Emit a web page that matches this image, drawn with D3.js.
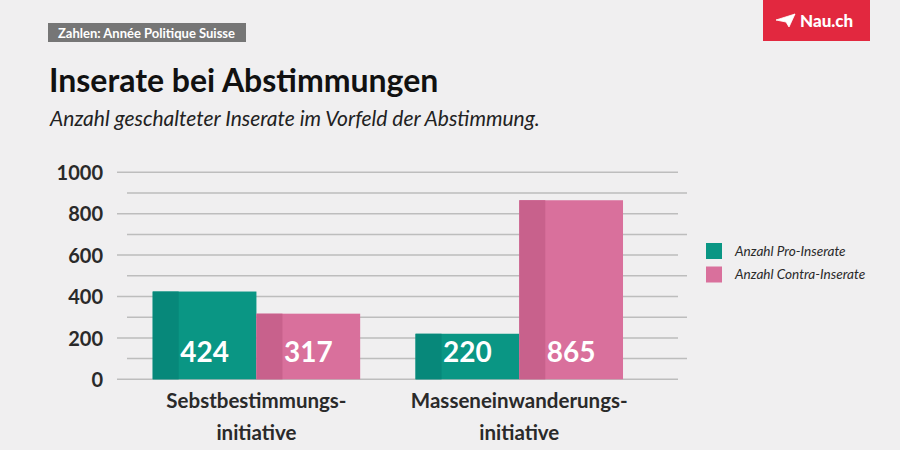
<!DOCTYPE html>
<html><head><meta charset="utf-8">
<script src="https://cdn.jsdelivr.net/npm/d3@7"></script>
<style>
html,body{margin:0;padding:0;background:#f0eff0;}
svg{display:block;font-family:Lato,"Open Sans",sans-serif;}
</style></head>
<body>
<svg id="chart" width="900" height="450"></svg>
<script>
const categories = [["Sebstbestimmungs-","initiative"],["Masseneinwanderungs-","initiative"]];
const seriesNames = ["Anzahl Pro-Inserate","Anzahl Contra-Inserate"];
const proValues = [424, 220];
const contraValues = [317, 865];
const yTicks = [0,200,400,600,800,1000];
const minorTicks = [100,300,500,700,900];

const colors = ["#0a9684","#d9709c"];
const darkColors = ["#07887a","#c8618c"];

const svg = d3.select("#chart");
svg.append("rect").attr("width",900).attr("height",450).attr("fill","#f0eff0");

// source tag
svg.append("rect").attr("x",48).attr("y",23).attr("width",198).attr("height",19).attr("fill","#767676");
svg.append("text").attr("x",58).attr("y",37.5).attr("fill","#fff").attr("font-weight",700)
  .attr("font-size",13).text("Zahlen: Année Politique Suisse");

// logo
svg.append("rect").attr("x",763).attr("y",0).attr("width",107).attr("height",41).attr("fill","#e2283f");
svg.append("path").attr("d","M776,20 L795,14 L789,27 L786,22 Z M786,22 L795,14").attr("fill","#fff").attr("stroke","#fff").attr("stroke-width",0.8);
svg.append("text").attr("x",800).attr("y",27).attr("fill","#fff").attr("font-weight",900)
  .attr("font-size",17).text("Nau.ch");

// titles
svg.append("text").attr("x",49).attr("y",92).attr("fill","#111").attr("font-weight",700)
  .attr("font-size",32).text("Inserate bei Abstimmungen");
svg.append("text").attr("x",50).attr("y",126).attr("fill","#222").attr("font-style","italic")
  .attr("font-size",21).text("Anzahl geschalteter Inserate im Vorfeld der Abstimmung.");

const y = d3.scaleLinear().domain([0,1000]).range([379.3,172.3]);
const x0 = d3.scaleBand().domain(d3.range(categories.length)).range([126.4,649.3]).paddingInner(0.2106).paddingOuter(0.1);
const x1 = d3.scaleBand().domain([0,1]).range([0,x0.bandwidth()]);

// grid
svg.append("g").selectAll("line").data(yTicks).join("line")
  .attr("x1",117).attr("x2",678).attr("y1",d=>y(d)).attr("y2",d=>y(d))
  .attr("stroke","#bdbdbd").attr("stroke-width",1.5);
svg.append("g").selectAll("line").data(minorTicks).join("line")
  .attr("x1",127).attr("x2",687).attr("y1",d=>y(d)).attr("y2",d=>y(d))
  .attr("stroke","#bdbdbd").attr("stroke-width",1.5);

// y axis labels
const yAxis = d3.axisLeft(y).tickValues(yTicks).tickSize(0).tickPadding(0).tickFormat(d3.format("d"));
const gy = svg.append("g").attr("transform","translate(103,0)").call(yAxis);
gy.select(".domain").remove();
gy.selectAll("text").attr("font-family","Lato").attr("font-size",20).attr("font-weight",700)
  .attr("fill","#2a2a2a").attr("dy","0.36em");

// bars
const data = categories.map((c,i)=>({i, vals:[proValues[i], contraValues[i]]}));
const groups = svg.append("g").selectAll("g").data(data).join("g")
  .attr("transform",d=>`translate(${x0(d.i)},0)`);
groups.each(function(d){
  const g = d3.select(this);
  d.vals.forEach((v,s)=>{
    const bx = x1(s), bw = x1.bandwidth();
    g.append("rect").attr("x",bx).attr("y",y(v)).attr("width",bw).attr("height",y(0)-y(v)).attr("fill",colors[s]);
    g.append("rect").attr("x",bx).attr("y",y(v)).attr("width",26).attr("height",y(0)-y(v)).attr("fill",darkColors[s]);
    g.append("text").attr("x",bx+bw/2).attr("y",362).attr("text-anchor","middle")
      .attr("fill","#fff").attr("font-weight",700).attr("font-size",28).text(v);
  });
});

// category labels
const cl = svg.append("g").selectAll("text").data(data).join("text")
  .attr("text-anchor","middle").attr("fill","#2a2a2a").attr("font-weight",700).attr("font-size",20.5)
  .attr("x",d=>x0(d.i)+x0.bandwidth()/2);
cl.append("tspan").attr("y",408).attr("x",d=>x0(d.i)+x0.bandwidth()/2).text(d=>categories[d.i][0]);
cl.append("tspan").attr("y",440).attr("x",d=>x0(d.i)+x0.bandwidth()/2).text(d=>categories[d.i][1]);

// legend
const lg = svg.append("g").selectAll("g").data(seriesNames).join("g")
  .attr("transform",(d,i)=>`translate(706,${243+i*23.5})`);
lg.append("rect").attr("width",16).attr("height",16).attr("fill",(d,i)=>colors[i]);
lg.append("text").attr("x",29).attr("y",12.5).attr("font-size",13.6).attr("font-style","italic")
  .attr("fill","#2a2a2a").text(d=>d);
</script>
</body></html>
